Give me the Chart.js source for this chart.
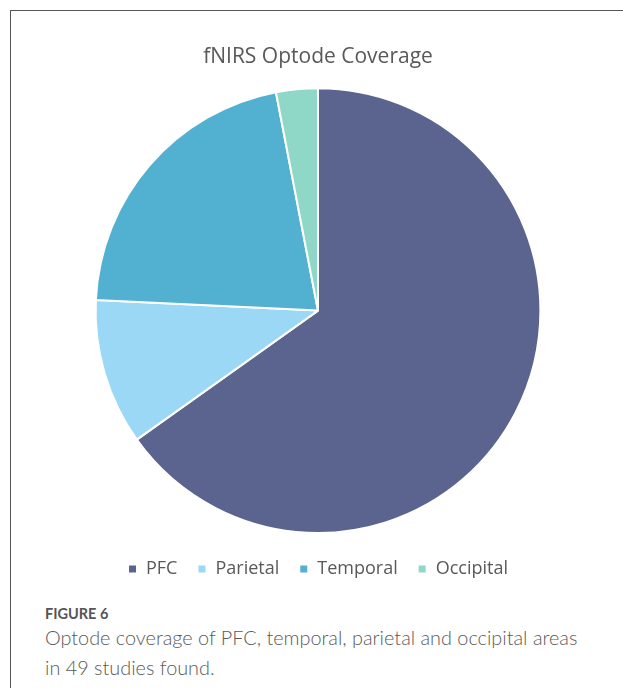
<!DOCTYPE html>
<html>
<head>
<meta charset="utf-8">
<script src="https://cdn.jsdelivr.net/npm/chart.js@4"></script>
<style>
  html, body { margin: 0; padding: 0; background: #fff; width: 623px; height: 688px; overflow: hidden; }
  #frame { position: absolute; left: 10px; top: 10px; width: 640px; height: 700px; border-left: 1px solid #555; border-top: 1px solid #555; }
  #wrap { position: absolute; left: 12px; top: 11px; width: 612px; height: 591px; }
  #fig { position: absolute; left: 45px; top: 605px; font-family: Lato, sans-serif; font-size: 14.5px; font-weight: 700; color: #555; line-height: 17px; }
  #cap { position: absolute; left: 45px; top: 622px; width: 578px; font-family: Lato, sans-serif; font-size: 19.85px; font-weight: 300; color: #5a5a5a; line-height: 30px; white-space: nowrap; }
</style>
</head>
<body>
<div id="frame"></div>
<div id="wrap"><canvas id="myChart"></canvas></div>
<div id="fig">FIGURE 6</div>
<div id="cap">Optode coverage of PFC, temporal, parietal and occipital areas<br>in 49 studies found.</div>
<script>
var regions = ['PFC', 'Parietal', 'Temporal', 'Occipital'];
var counts = [43, 7, 14, 2];
var colours = ['#5a648e', '#9ad8f5', '#52b0d1', '#8fd8c8'];

var ctx = document.getElementById('myChart').getContext('2d');
var myChart = new Chart(ctx, {
    type: 'pie',
    data: {
        labels: regions,
        datasets: [{
            data: counts,
            backgroundColor: colours,
            borderColor: '#ffffff',
            borderWidth: 2
        }]
    },
    options: {
        responsive: true,
        maintainAspectRatio: false,
        animation: false,
        layout: { padding: { top: 0, bottom: 14 } },
        plugins: {
            title: {
                display: true,
                text: 'fNIRS Optode Coverage',
                color: '#595959',
                font: { family: 'Open Sans', size: 21, weight: 'normal' },
                padding: { top: 33, bottom: 18 }
            },
            legend: {
                position: 'bottom',
                // empty legend title only adds a bit of space above the items
                title: { display: true, text: '', font: { size: 1, lineHeight: 6 }, padding: 0 },
                labels: {
                    color: '#595959',
                    font: { family: 'Open Sans', size: 18 },
                    boxWidth: 9,
                    boxHeight: 9,
                    padding: 20
                }
            },
            tooltip: { enabled: false }
        }
    }
});
</script>
</body>
</html>
